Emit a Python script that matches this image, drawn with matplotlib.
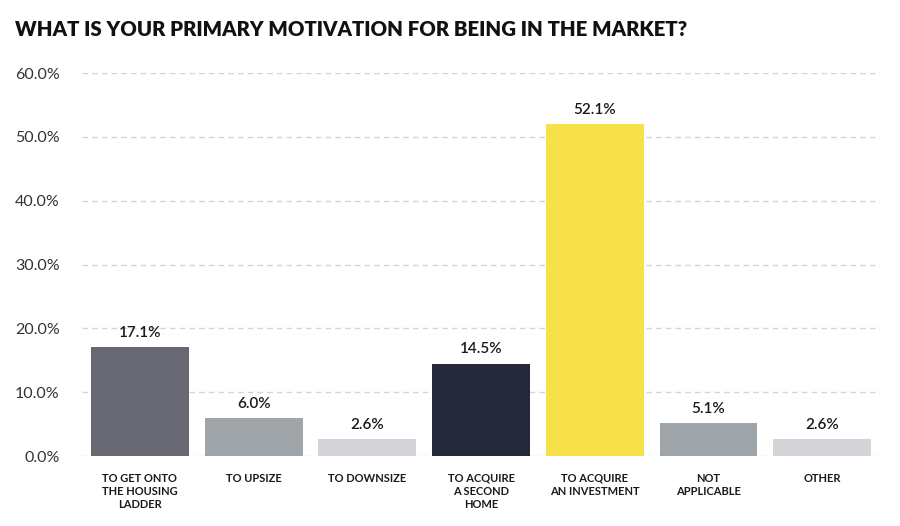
import matplotlib
matplotlib.use("Agg")
import matplotlib.pyplot as plt

categories = ["TO GET ONTO\nTHE HOUSING\nLADDER", "TO UPSIZE", "TO DOWNSIZE",
              "TO ACQUIRE\nA SECOND\nHOME", "TO ACQUIRE\nAN INVESTMENT",
              "NOT\nAPPLICABLE", "OTHER"]
values = [17.1, 6.0, 2.6, 14.5, 52.1, 5.1, 2.6]
colors = ["#686873", "#a0a5aa", "#d3d3d8", "#242838", "#f6e14b", "#a0a5aa", "#d3d3d8"]
yticks = [0, 10, 20, 30, 40, 50, 60]

plt.rcParams['font.family'] = ['Lato', 'DejaVu Sans']

fig = plt.figure(figsize=(9, 5.26), dpi=100)
ax = fig.add_axes([0.091, 0.133, 0.887, 0.728])
x = list(range(len(categories)))
ax.bar(x, values, width=0.86, color=colors, zorder=3)
for xi, v in zip(x, values):
    ax.text(xi, v + 1.1, f"{v:.1f}%", ha="center", va="bottom", fontsize=11,
            color="#1a1a1a", fontweight="semibold")
ax.set_xlim(-0.51, 6.51)
ax.set_ylim(0, 60)
ax.set_yticks(yticks)
ax.set_yticklabels([f"{t:.1f}%" for t in yticks], fontsize=11.5, color="#333333")
ax.set_xticks(x)
ax.set_xticklabels(categories, fontsize=8, fontweight="bold", color="#1a1a1a",
                   linespacing=1.25, va="top")
ax.tick_params(axis="both", length=0)
ax.tick_params(axis="y", pad=16)
ax.tick_params(axis="x", pad=12)
ax.grid(axis="y", color="#d4d4d4", linestyle=(0, (4, 3)), linewidth=1, zorder=0)
for s in ax.spines.values():
    s.set_visible(False)

fig.text(0.017, 0.943, "WHAT IS YOUR PRIMARY MOTIVATION FOR BEING IN THE MARKET?",
         fontsize=14.7, fontweight="heavy", color="#111111", ha="left", va="center")

fig.savefig("out.png", dpi=100)
